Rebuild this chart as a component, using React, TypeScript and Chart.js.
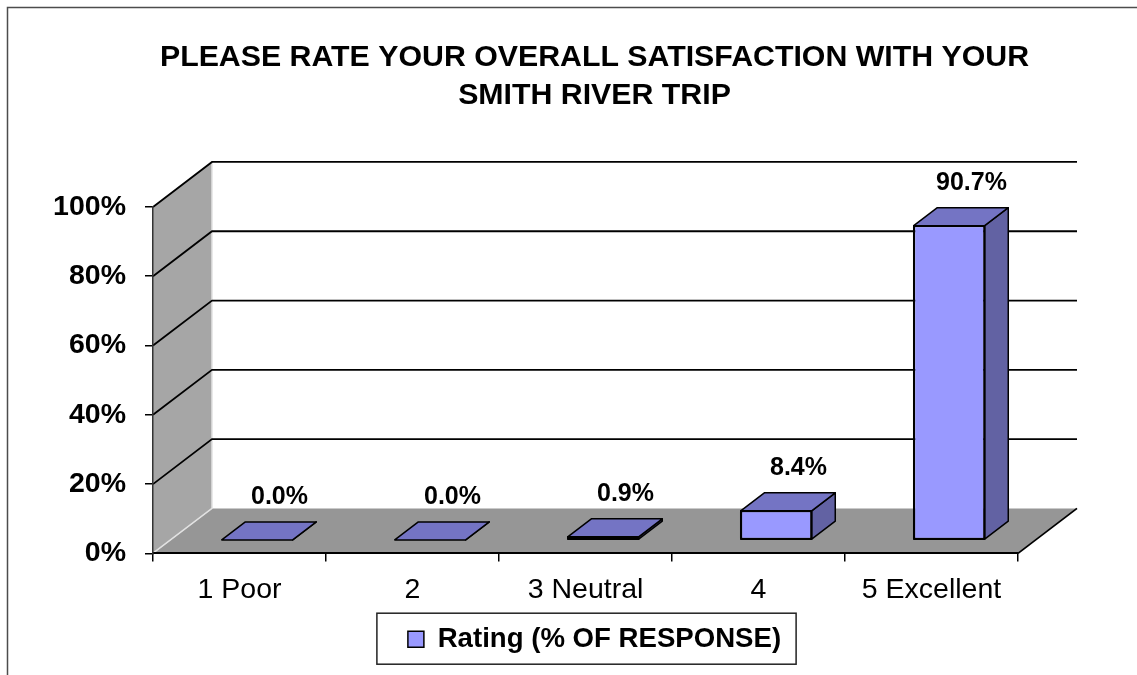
import React, { useEffect, useRef } from 'react';
import { Chart, registerables } from 'chart.js';

Chart.register(...registerables);

// ---------- data ----------
const categories = ['1 Poor', '2', '3 Neutral', '4', '5 Excellent'];
const ratingValues = [0.0, 0.0, 0.9, 8.4, 90.7];
const yTickValues = [0, 20, 40, 60, 80, 100];
const titleLines = ['PLEASE RATE YOUR OVERALL SATISFACTION WITH YOUR', 'SMITH RIVER TRIP'];
const seriesName = 'Rating (% OF RESPONSE)';

// ---------- style ----------
const FONT = '"Liberation Sans", Arial, Helvetica, sans-serif';
const DEPTH_X = 59;
const DEPTH_Y = -45;
const BAR_F0 = 0.3;
const BAR_F1 = 0.7;
const FRONT = '#9999ff';
const TOP = '#7474c4';
const SIDE = '#6262a3';

function poly(ctx: CanvasRenderingContext2D, pts: number[][]) {
  ctx.beginPath();
  ctx.moveTo(pts[0][0], pts[0][1]);
  for (let i = 1; i < pts.length; i++) ctx.lineTo(pts[i][0], pts[i][1]);
  ctx.closePath();
}

const threeD = {
  id: 'threeD',
  beforeDraw(chart: any) {
    const ctx: CanvasRenderingContext2D = chart.ctx;
    const xs = chart.scales.x;
    const ys = chart.scales.y;
    const L = xs.left;
    const R = xs.right;
    const B = ys.getPixelForValue(yTickValues[0]);
    const T = ys.getPixelForValue(yTickValues[yTickValues.length - 1]);
    ctx.save();
    // outer frame
    ctx.strokeStyle = '#4d4d4d';
    ctx.lineWidth = 1.5;
    ctx.beginPath();
    ctx.moveTo(7.5, chart.height + 10);
    ctx.lineTo(7.5, 7.5);
    ctx.lineTo(chart.width + 10, 7.5);
    ctx.stroke();
    // side wall
    ctx.fillStyle = '#a6a6a6';
    poly(ctx, [[L, B], [L, T], [L + DEPTH_X, T + DEPTH_Y], [L + DEPTH_X, B + DEPTH_Y]]);
    ctx.fill();
    // floor
    ctx.fillStyle = '#969696';
    poly(ctx, [[L, B], [L + DEPTH_X, B + DEPTH_Y], [R + DEPTH_X, B + DEPTH_Y], [R, B]]);
    ctx.fill();
    // light corner edges
    ctx.strokeStyle = '#e2e2e2';
    ctx.lineWidth = 1.5;
    ctx.beginPath();
    ctx.moveTo(L + DEPTH_X, T + DEPTH_Y);
    ctx.lineTo(L + DEPTH_X, B + DEPTH_Y);
    ctx.lineTo(L + 1, B - 1);
    ctx.stroke();
    // grid lines on walls
    ctx.strokeStyle = '#000';
    ctx.lineWidth = 1.8;
    yTickValues.forEach((v) => {
      if (v === 0) return;
      const yy = ys.getPixelForValue(v);
      ctx.beginPath();
      ctx.moveTo(L, yy);
      ctx.lineTo(L + DEPTH_X, yy + DEPTH_Y);
      ctx.lineTo(R + DEPTH_X, yy + DEPTH_Y);
      ctx.stroke();
    });
    // floor right edge
    ctx.beginPath();
    ctx.moveTo(R, B);
    ctx.lineTo(R + DEPTH_X, B + DEPTH_Y);
    ctx.stroke();
    ctx.restore();
  },
  beforeDatasetsDraw(chart: any) {
    chart.ctx.save();
    chart.ctx.translate(DEPTH_X * BAR_F0, DEPTH_Y * BAR_F0);
  },
  afterDatasetsDraw(chart: any) {
    const ctx: CanvasRenderingContext2D = chart.ctx;
    ctx.restore();
    const meta = chart.getDatasetMeta(0);
    const data = chart.data.datasets[0].data;
    const ox = DEPTH_X * BAR_F0;
    const oy = DEPTH_Y * BAR_F0;
    const ddx = DEPTH_X * (BAR_F1 - BAR_F0);
    const ddy = DEPTH_Y * (BAR_F1 - BAR_F0);
    meta.data.forEach((el: any, i: number) => {
      const { x, y, base, width } = el.getProps(['x', 'y', 'base', 'width'], true);
      const l = x - width / 2 + ox;
      const r = x + width / 2 + ox;
      const t = Math.min(y, base) + oy;
      const b = Math.max(y, base) + oy;
      ctx.save();
      ctx.lineWidth = 1.5;
      ctx.strokeStyle = '#000';
      ctx.lineJoin = 'round';
      ctx.fillStyle = SIDE;
      poly(ctx, [[r, t], [r + ddx, t + ddy], [r + ddx, b + ddy], [r, b]]);
      ctx.fill();
      ctx.stroke();
      ctx.fillStyle = TOP;
      poly(ctx, [[l, t], [r, t], [r + ddx, t + ddy], [l + ddx, t + ddy]]);
      ctx.fill();
      ctx.stroke();
      if (b - t > 0.5) {
        ctx.strokeRect(l, t, r - l, b - t);
      }
      ctx.fillStyle = '#000';
      ctx.font = `bold 25px ${FONT}`;
      ctx.textAlign = 'center';
      ctx.textBaseline = 'middle';
      ctx.fillText(Number(data[i]).toFixed(1) + '%', x + 40, y - 56);
      ctx.restore();
    });
  },
  afterDraw(chart: any) {
    const ctx: CanvasRenderingContext2D = chart.ctx;
    const hb = chart.legend && chart.legend.legendHitBoxes && chart.legend.legendHitBoxes[0];
    if (!hb) return;
    const cy = hb.top + hb.height / 2;
    ctx.save();
    ctx.strokeStyle = '#222';
    ctx.lineWidth = 1.5;
    ctx.strokeRect(hb.left - 31, cy - 26, hb.width + 46, 51);
    ctx.restore();
  },
};

export default function App() {
  const ref = useRef<HTMLCanvasElement>(null);
  useEffect(() => {
    const chart = new Chart(ref.current as HTMLCanvasElement, {
      type: 'bar',
      data: {
        labels: categories,
        datasets: [
          {
            label: seriesName,
            data: ratingValues,
            backgroundColor: FRONT,
            borderColor: '#000',
            borderWidth: 1.5,
            borderSkipped: false,
            categoryPercentage: 1,
            barPercentage: 0.41,
            clip: false,
          } as any,
        ],
      },
      options: {
        responsive: false,
        animation: false,
        devicePixelRatio: 1,
        events: [],
        layout: { padding: { left: 52, right: 0, top: 0, bottom: 12 } },
        plugins: {
          tooltip: { enabled: false },
          title: {
            display: true,
            text: titleLines,
            color: '#000',
            font: { family: FONT, size: 30.3, weight: 'bold', lineHeight: 1.27 },
            padding: { top: 38, bottom: 92 },
          },
          legend: {
            display: true,
            position: 'bottom',
            labels: {
              color: '#000',
              font: { family: FONT, size: 27.6, weight: 'bold' },
              boxWidth: 16,
              boxHeight: 16,
              padding: 18,
            },
          },
        },
        scales: {
          x: {
            type: 'category',
            offset: true,
            grid: { offset: true, drawOnChartArea: false, drawTicks: true, tickLength: 8, color: '#000', lineWidth: 1.5 },
            border: { display: true, color: '#000', width: 2 },
            ticks: { color: '#000', font: { family: FONT, size: 28.5 }, padding: 12, maxRotation: 0, autoSkip: false },
            afterFit: (s: any) => { s.height = 54; },
          },
          y: {
            type: 'linear',
            position: 'left',
            min: yTickValues[0],
            max: yTickValues[yTickValues.length - 1],
            afterBuildTicks: (s: any) => { s.ticks = yTickValues.map((v) => ({ value: v })); },
            ticks: {
              color: '#000',
              font: { family: FONT, size: 28.5, weight: 'bold' },
              padding: 19,
              callback: (v: any) => `${v}%`,
            },
            grid: { drawOnChartArea: false, tickLength: 8, color: '#000', lineWidth: 1.5 },
            border: { display: true, color: '#333', width: 1.5 },
            afterFit: (s: any) => { s.width = 153 - 52; },
          },
          pad: {
            type: 'linear',
            position: 'right',
            display: true,
            grid: { display: false },
            border: { display: false },
            ticks: { display: false },
            afterFit: (s: any) => { s.width = 119; },
          },
        },
      } as any,
      plugins: [threeD as any],
    });
    return () => chart.destroy();
  }, []);
  return (
    <div style={{ position: 'absolute', left: 0, top: 0, width: 1137, height: 675, background: '#fff' }}>
      <canvas ref={ref} width={1137} height={675} style={{ display: 'block' }} />
    </div>
  );
}
